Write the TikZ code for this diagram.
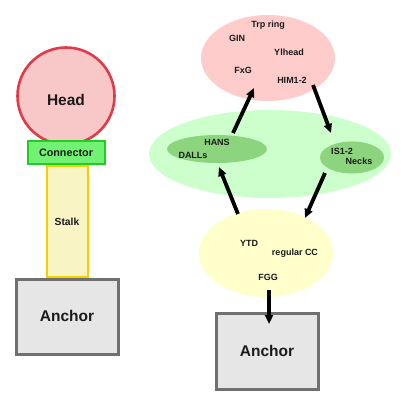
\documentclass[tikz,border=0pt]{standalone}
\usepackage{fontspec}
\setmainfont{Liberation Sans}
\usetikzlibrary{arrows.meta}
\definecolor{headfill}{HTML}{F8C8C8}
\definecolor{headline}{HTML}{E23A48}
\definecolor{confill}{HTML}{72F272}
\definecolor{conline}{HTML}{22CC22}
\definecolor{stalkfill}{HTML}{F8F4C4}
\definecolor{stalkline}{HTML}{F5D000}
\definecolor{ancfill}{HTML}{E6E6E6}
\definecolor{ancline}{HTML}{707070}
\definecolor{pinkell}{HTML}{FFCCCC}
\definecolor{lgreen}{HTML}{CCFFCC}
\definecolor{dgreen}{HTML}{8CD47E}
\definecolor{yell}{HTML}{FFFFCC}
\definecolor{txt}{HTML}{1A1A1A}
\tikzset{
  lbl/.style={font=\bfseries\fontsize{9}{10.5}\selectfont, text=txt, inner sep=0pt},
  biglbl/.style={font=\bfseries\fontsize{15.5}{18}\selectfont, text=txt, inner sep=0pt},
  midlbl/.style={font=\bfseries\fontsize{10.8}{13}\selectfont, text=txt, inner sep=0pt},
  anchorbox/.style={draw=ancline, line width=3pt, fill=ancfill},
  arr/.style={line width=3.8pt, -{Triangle[length=9pt,width=8pt]}}
}
\begin{document}
\begin{tikzpicture}[x=1pt,y=-1pt]
\useasboundingbox (0,0) rectangle (400,404);
% left side
\draw[anchorbox] (16,279) rectangle (118,354);
\node[biglbl] (anc1) at (67,316) {Anchor};
\draw[stalkline, fill=stalkfill, line width=2.4pt] (47,166) rectangle (88,277);
\node[midlbl, font=\bfseries\fontsize{10.3}{12}\selectfont] (stalk) at (67,222) {Stalk};
\draw[headline, fill=headfill, line width=2.6pt] (66,96) circle (48.5);
\node[biglbl] (head) at (66,100) {Head};
\draw[conline, fill=confill, line width=2.4pt] (28,141) rectangle (105,164);
\node[midlbl] (con) at (66,152.5) {Connector};
% right side
\fill[pinkell] (268,58) ellipse (67 and 43);
\node[lbl] (trp) at (268,25) {Trp ring};
\node[lbl] (gin) at (237,38) {GIN};
\node[lbl] (yl) at (289,52) {Ylhead};
\node[lbl] (fxg) at (243,70) {FxG};
\node[lbl] (him) at (292,80) {HIM1-2};
\fill[lgreen] (270,154) ellipse (121 and 44);
\fill[dgreen] (217,149) ellipse (50 and 14);
\fill[dgreen] (352,157.5) ellipse (32 and 16);
\node[lbl] (hans) at (217,142) {HANS};
\node[lbl] (dalls) at (193,155) {DALLs};
\node[lbl] (is) at (342,151) {IS1-2};
\node[lbl] (necks) at (359,161) {Necks};
\fill[yell] (266,253) ellipse (67 and 44);
\node[lbl] (ytd) at (249,243) {YTD};
\node[lbl] (reg) at (295,253) {regular CC};
\node[lbl] (fgg) at (268,277) {FGG};
\draw[anchorbox] (216,313) rectangle (318,389);
\node[biglbl] (anc2) at (267,351) {Anchor};
% arrows
\coordinate (a1s) at (233,133); \coordinate (a1e) at (254,88);
\coordinate (a2s) at (313,85);  \coordinate (a2e) at (331,133);
\coordinate (a3s) at (325,173); \coordinate (a3e) at (305,218);
\coordinate (a4s) at (238,214); \coordinate (a4e) at (219,167);
\coordinate (a5s) at (269,290); \coordinate (a5e) at (269,324);
\draw[arr] (a1s) -- (a1e);
\draw[arr] (a2s) -- (a2e);
\draw[arr] (a3s) -- (a3e);
\draw[arr] (a4s) -- (a4e);
\draw[arr] (a5s) -- (a5e);
\end{tikzpicture}
\end{document}
